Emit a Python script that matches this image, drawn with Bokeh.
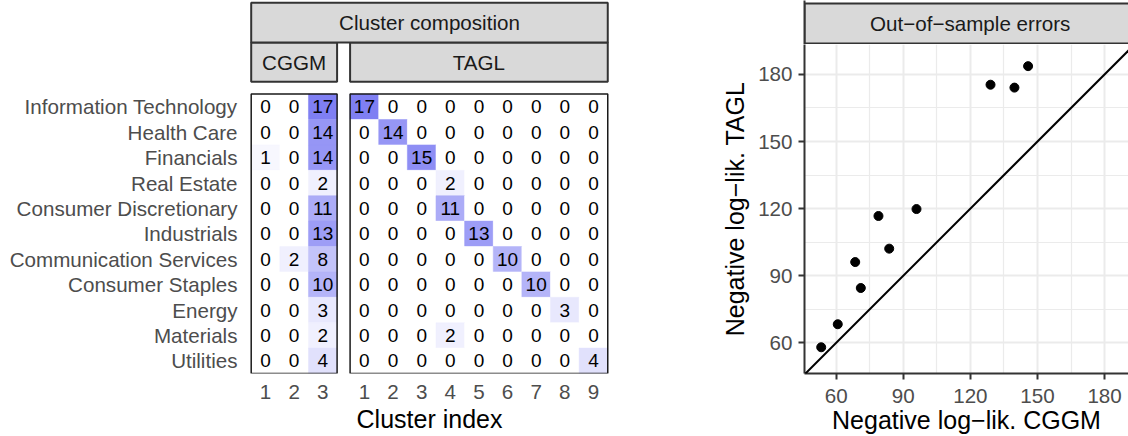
from bokeh.plotting import figure
from bokeh.layouts import row, column
from bokeh.models import ColumnDataSource, Range1d, FixedTicker, LinearColorMapper, Slope, LinearAxis
from bokeh.core.properties import value
from bokeh.embed import file_html
from bokeh.resources import INLINE

FONT = "Liberation Sans"

# ---------------- data ----------------
sectors = [
    "Information Technology", "Health Care", "Financials", "Real Estate",
    "Consumer Discretionary", "Industrials", "Communication Services",
    "Consumer Staples", "Energy", "Materials", "Utilities",
]
cggm_labels = ["1", "2", "3"]
tagl_labels = ["1", "2", "3", "4", "5", "6", "7", "8", "9"]
cggm_counts = [
    [0, 0, 17],
    [0, 0, 14],
    [1, 0, 14],
    [0, 0, 2],
    [0, 0, 11],
    [0, 0, 13],
    [0, 2, 8],
    [0, 0, 10],
    [0, 0, 3],
    [0, 0, 2],
    [0, 0, 4],
]
tagl_counts = [
    [17, 0, 0, 0, 0, 0, 0, 0, 0],
    [0, 14, 0, 0, 0, 0, 0, 0, 0],
    [0, 0, 15, 0, 0, 0, 0, 0, 0],
    [0, 0, 0, 2, 0, 0, 0, 0, 0],
    [0, 0, 0, 11, 0, 0, 0, 0, 0],
    [0, 0, 0, 0, 13, 0, 0, 0, 0],
    [0, 0, 0, 0, 0, 10, 0, 0, 0],
    [0, 0, 0, 0, 0, 0, 10, 0, 0],
    [0, 0, 0, 0, 0, 0, 0, 3, 0],
    [0, 0, 0, 2, 0, 0, 0, 0, 0],
    [0, 0, 0, 0, 0, 0, 0, 0, 4],
]
nll_cggm = [53.3, 60.7, 68.5, 71.0, 78.9, 83.7, 95.9, 129.0, 139.7, 145.8]
nll_tagl = [58.0, 68.3, 96.1, 84.5, 116.7, 102.1, 119.8, 175.4, 174.1, 183.7]
nll_ticks = [60, 90, 120, 150, 180]
nll_minor = [45, 75, 105, 135, 165, 195]

# ---------------- styles ----------------
STRIP_FILL = "#D9D9D9"
STRIP_LINE = "#333333"
STRIP_TEXT = "#1A1A1A"
AXIS_TEXT = "#4D4D4D"
GRID = "#EBEBEB"
LOW_COLOR = (255, 255, 255)
HIGH_COLOR = (127, 127, 243)
TICK_FS = "20.6px"
STRIP_FS = "20.6px"
TITLE_FS = "25px"

palette = []
for k in range(256):
    f = k / 255
    palette.append("#%02x%02x%02x" % tuple(
        round(LOW_COLOR[c] + (HIGH_COLOR[c] - LOW_COLOR[c]) * f) for c in range(3)))

# ---------------- left: cluster composition ----------------
PXC = 28.63   # px per column
PXR = 25.4    # px per row
GAP = 13.0 / PXC
n_rows = len(sectors)
n_c, n_t = len(cggm_labels), len(tagl_labels)
t0 = n_c + GAP

xs, ys, vs = [], [], []
for i in range(n_rows):
    yc = n_rows - i - 0.5
    for j, v in enumerate(cggm_counts[i]):
        xs.append(j + 0.5); ys.append(yc); vs.append(v)
    for j, v in enumerate(tagl_counts[i]):
        xs.append(t0 + j + 0.5); ys.append(yc); vs.append(v)
src = ColumnDataSource(dict(x=xs, y=ys, v=vs, t=[str(v) for v in vs]))

vmax = max(max(r) for r in cggm_counts + tagl_counts)
mapper = LinearColorMapper(palette=palette, low=0, high=vmax)

LW, LH = 680, 436
ML, MR, MB = 249, 71, 63
x0 = -1.7 / PXC
left = figure(width=LW, height=LH, output_backend="svg", toolbar_location=None,
              x_range=Range1d(x0, x0 + (LW - ML - MR) / PXC),
              y_range=Range1d(0, (LH - MB) / PXR),
              min_border_left=ML, min_border_right=MR, min_border_top=0,
              min_border_bottom=MB)
left.outline_line_color = None
left.xgrid.visible = False
left.ygrid.visible = False
left.background_fill_color = "white"

left.rect(x="x", y="y", width=1, height=1, source=src,
          fill_color={"field": "v", "transform": mapper},
          line_color={"field": "v", "transform": mapper}, line_width=0.5)
left.text(x="x", y="y", text="t", source=src, text_font=value(FONT),
          text_font_size="19px", text_align="center", text_baseline="middle",
          text_color="black")

# panel borders
left.quad(left=[0, t0], right=[n_c, t0 + n_t], bottom=[0, 0], top=[n_rows, n_rows],
          fill_color=None, line_color="#1A1A1A", line_width=1.5)

# strips
s1b = n_rows + 12.3 / PXR
s1t = s1b + 39.4 / PXR
s2t = s1t + 39.6 / PXR
left.quad(left=[0, t0, 0], right=[n_c, t0 + n_t, t0 + n_t],
          bottom=[s1b, s1b, s1t], top=[s1t, s1t, s2t],
          fill_color=STRIP_FILL, line_color=STRIP_LINE, line_width=2)
left.text(x=[n_c / 2, t0 + n_t / 2, (t0 + n_t) / 2],
          y=[(s1b + s1t) / 2, (s1b + s1t) / 2, (s1t + s2t) / 2],
          text=["CGGM", "TAGL", "Cluster composition"],
          text_font=value(FONT), text_font_size=STRIP_FS, text_align="center",
          text_baseline="middle", text_color=STRIP_TEXT)

# axes
xcent = [j + 0.5 for j in range(n_c)] + [t0 + j + 0.5 for j in range(n_t)]
xlabs = cggm_labels + tagl_labels
ycent = [n_rows - i - 0.5 for i in range(n_rows)]
xa = left.xaxis[0]
xa.ticker = FixedTicker(ticks=xcent)
xa.major_label_overrides = {c: l for c, l in zip(xcent, xlabs)}
ya = left.yaxis[0]
ya.ticker = FixedTicker(ticks=ycent)
ya.major_label_overrides = {c: l for c, l in zip(ycent, sectors)}
for ax in (xa, ya):
    ax.axis_line_color = None
    ax.major_tick_line_color = None
    ax.minor_tick_line_color = None
    ax.major_tick_out = 0
    ax.major_tick_in = 0
    ax.major_label_text_font = FONT
    ax.major_label_text_font_size = TICK_FS
    ax.major_label_text_color = AXIS_TEXT
xa.major_label_standoff = 11
ya.major_label_standoff = 12
xa.axis_label = "Cluster index"
xa.axis_label_text_font = FONT
xa.axis_label_text_font_size = TITLE_FS
xa.axis_label_text_font_style = "normal"
xa.axis_label_text_color = "black"
xa.axis_label_standoff = 3

# ---------------- right: out-of-sample errors ----------------
RW = 1128 - LW
SH = 44
PXS = 2.2365   # px per unit
RML = 124
panel_w = 331.4

# strip header (frame aligned with the scatter's frame)
strip = figure(width=RW, height=SH, output_backend="svg", toolbar_location=None,
               x_range=Range1d(0, RW - RML), y_range=Range1d(SH, 0),
               x_axis_location=None, y_axis_location=None,
               min_border_left=RML, min_border_right=0, min_border_top=0,
               min_border_bottom=0)
strip.outline_line_color = None
strip.xgrid.visible = False
strip.ygrid.visible = False
strip.quad(left=[0], right=[panel_w], top=[3], bottom=[43],
           fill_color=STRIP_FILL, line_color=STRIP_LINE, line_width=2)
strip.text(x=[panel_w / 2], y=[23], text=["Out\u2212of\u2212sample errors"],
           text_font=value(FONT), text_font_size=STRIP_FS, text_align="center",
           text_baseline="middle", text_color=STRIP_TEXT)
sax = LinearAxis(major_label_text_color=None, major_tick_line_color=None,
                 minor_tick_line_color=None, axis_line_color=STRIP_LINE,
                 axis_line_width=2, major_label_text_font_size="1px")
sax.ticker = FixedTicker(ticks=[])
strip.add_layout(sax, "left")

SCH = LH - SH
SMB = 63
fx0 = 60 - (835.7 - (LW + RML)) / PXS
fy0 = 60 - (373 - 342.3) / PXS
sc = figure(width=RW, height=SCH, output_backend="svg", toolbar_location=None,
            x_range=Range1d(fx0, fx0 + (RW - RML) / PXS),
            y_range=Range1d(fy0, fy0 + (SCH - SMB) / PXS),
            min_border_left=RML, min_border_right=0, min_border_top=0,
            min_border_bottom=SMB)
sc.outline_line_color = None
sc.background_fill_color = "white"
for g in (sc.xgrid[0], sc.ygrid[0]):
    g.grid_line_color = GRID
    g.grid_line_width = 2
    g.minor_grid_line_color = GRID
    g.minor_grid_line_width = 1.2
sc.add_layout(Slope(gradient=1, y_intercept=0, line_color="black", line_width=2))
sc.scatter(x=nll_cggm, y=nll_tagl, size=9, color="black")

for ax in (sc.xaxis[0], sc.yaxis[0]):
    ax.ticker = FixedTicker(ticks=nll_ticks, minor_ticks=nll_minor)
    ax.axis_line_color = "#333333"
    ax.axis_line_width = 2
    ax.major_tick_line_color = "#333333"
    ax.major_tick_line_width = 2
    ax.major_tick_in = 0
    ax.major_tick_out = 6
    ax.minor_tick_line_color = None
    ax.major_label_text_font = FONT
    ax.major_label_text_font_size = TICK_FS
    ax.major_label_text_color = AXIS_TEXT
    ax.axis_label_text_font = FONT
    ax.axis_label_text_font_size = TITLE_FS
    ax.axis_label_text_font_style = "normal"
    ax.axis_label_text_color = "black"
sc.xaxis[0].axis_label = "Negative log\u2212lik. CGGM"
sc.yaxis[0].axis_label = "Negative log\u2212lik. TAGL"
sc.xaxis[0].major_label_standoff = 9
sc.xaxis[0].axis_label_standoff = 0
sc.yaxis[0].major_label_standoff = 6
sc.yaxis[0].axis_label_standoff = 6

layout = row(left, column(strip, sc, spacing=0), spacing=0)
open("out.html", "w").write(file_html(layout, INLINE))
